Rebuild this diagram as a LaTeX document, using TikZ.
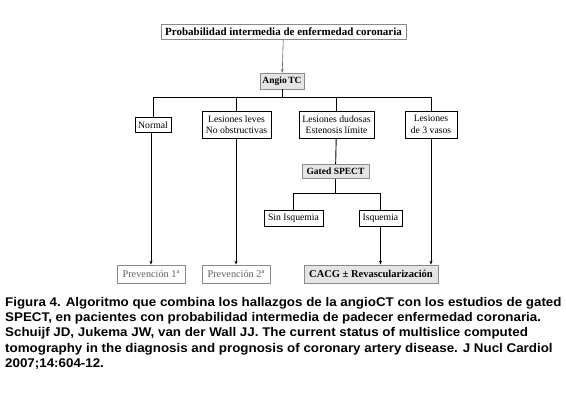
\documentclass[tikz,border=0pt]{standalone}
\usepackage{fontspec}
\setmainfont{Liberation Serif}
\newfontfamily\capfont[FakeStretch=1.06]{Liberation Sans}
\usetikzlibrary{arrows.meta}
\definecolor{boxgray}{HTML}{E4E4E4}
\definecolor{bordgray}{HTML}{8A8A8A}
\definecolor{txtgray}{HTML}{606060}
\begin{document}
\begin{tikzpicture}[x=1pt,y=-1pt,
  box/.style={draw=black,fill=white,line width=0.8pt,inner sep=0pt,align=center,font=\fontsize{9.7}{11.5}\selectfont},
  gbox/.style={draw=bordgray,fill=boxgray,line width=0.8pt,inner sep=0pt,align=center,font=\fontsize{9.5}{11}\selectfont\bfseries},
  pbox/.style={draw=bordgray,fill=white,line width=0.8pt,inner sep=0pt,align=center,text=txtgray,font=\fontsize{10.3}{12}\selectfont},
  conn/.style={line width=0.9pt,draw=black},
  arr/.style={conn,-{Stealth[length=4pt,width=3pt]}},
  captxt/.style={anchor=west,inner sep=0pt,font=\capfont\bfseries\fontsize{12.6}{14}\selectfont}]
\useasboundingbox (0,0) rectangle (566,418);
\fill[white] (0,0) rectangle (566,418);

\node[draw=bordgray,fill=white,line width=0.8pt,inner sep=0pt,minimum width=245pt,minimum height=15pt,font=\fontsize{11}{13}\selectfont\bfseries] (top) at (283.5,31.5) {Probabilidad intermedia de enfermedad coronaria};
\node[gbox,minimum width=44pt,minimum height=16pt] (angio) at (282,81) {Angio\,TC};

\node[box,minimum width=36pt,minimum height=15pt] (normal) at (153,125) {Normal};
\node[box,minimum width=69pt,minimum height=27pt] (leves) at (236.5,124.5) {Lesiones leves\\No obstructivas};
\node[box,minimum width=75pt,minimum height=27pt] (dudosas) at (336.5,124.5) {Lesiones dudosas\\Estenosis límite};
\node[box,minimum width=52pt,minimum height=27pt] (vasos) at (431,124.5) {Lesiones\\de 3 vasos};

\node[gbox,minimum width=67pt,minimum height=14pt] (gated) at (335.5,171.5) {Gated SPECT};
\node[box,minimum width=59pt,minimum height=16pt] (sin) at (293.5,218) {Sin Isquemia};
\node[box,minimum width=43pt,minimum height=16pt] (isq) at (380.5,218) {Isquemia};

\node[pbox,minimum width=68pt,minimum height=18pt] (prev1) at (151,274) {Prevención 1ª};
\node[pbox,minimum width=68pt,minimum height=18pt] (prev2) at (236,274) {Prevención 2ª};
\node[gbox,minimum width=134pt,minimum height=18pt,font=\fontsize{10.5}{12}\selectfont\bfseries] (cacg) at (371,274) {CACG ± Revascularización};

\coordinate (bus) at (282,97.5);
\draw[line width=0.6pt,draw=txtgray,-{Stealth[length=3.5pt,width=2.5pt]}] (top) -- (angio);
\draw[conn] (angio) -- (bus);
\draw[conn] (normal.north) |- (bus) -| (vasos.north);
\draw[conn] (leves.north) -- (leves.north |- bus);
\draw[conn] (dudosas.north) -- (dudosas.north |- bus);
\draw[conn] (dudosas) -- (gated);
\coordinate (bus2) at (335.5,193.5);
\draw[conn] (gated) -- (bus2);
\draw[conn] (sin.north) |- (bus2) -| (isq.north);

\draw[arr] (normal.south -| prev1.north) -- (prev1.north);
\draw[arr] (leves.south -| prev2.north) -- (prev2.north);
\draw[arr] (isq.south) -- (isq.south |- cacg.north);
\draw[arr] (vasos.south) -- (vasos.south |- cacg.north);

\node[captxt] (c1) at (5,303) {Figura 4. Algoritmo que combina los hallazgos de la angioCT con los estudios de gated};
\node[captxt] (c2) at (5,318.3) {SPECT, en pacientes con probabilidad intermedia de padecer enfermedad coronaria.};
\node[captxt] (c3) at (5,333.6) {Schuijf JD, Jukema JW, van der Wall JJ. The current status of multislice computed};
\node[captxt] (c4) at (5,348.9) {tomography in the diagnosis and prognosis of coronary artery disease. J Nucl Cardiol};
\node[captxt] (c5) at (5,364.2) {2007;14:604-12.};
\end{tikzpicture}
\end{document}
